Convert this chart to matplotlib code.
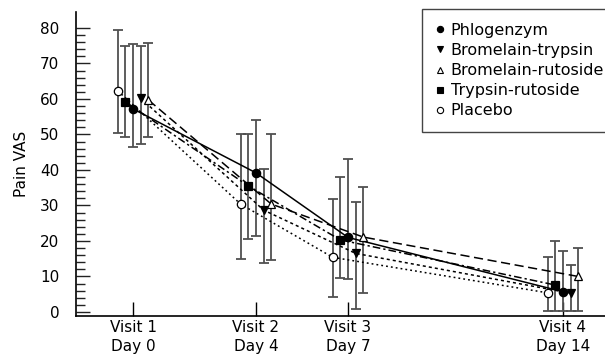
import numpy as np
import matplotlib
matplotlib.use('Agg')
import matplotlib.pyplot as plt
from matplotlib.lines import Line2D

# visits on a day scale
days = [0, 4, 7, 14]
tick_labels = ['Visit 1\nDay 0', 'Visit 2\nDay 4', 'Visit 3\nDay 7', 'Visit 4\nDay 14']

groups = ['Phlogenzym', 'Bromelain-trypsin', 'Bromelain-rutoside', 'Trypsin-rutoside', 'Placebo']

# mean pain VAS and error bar ends
phlog_mean = [57.2, 39.2, 21.0, 5.7]
phlog_hi = [75.4, 54.0, 43.0, 17.2]
phlog_lo = [46.4, 21.5, 9.3, 0.4]

brtr_mean = [60.2, 28.7, 16.5, 5.3]
brtr_hi = [75.0, 40.2, 31.1, 13.2]
brtr_lo = [47.3, 13.7, 0.8, 0.4]

brru_mean = [59.7, 30.4, 21.1, 10.0]
brru_hi = [75.7, 50.0, 35.3, 18.1]
brru_lo = [49.4, 14.6, 5.4, 0.4]

trru_mean = [59.2, 35.5, 20.3, 7.6]
trru_hi = [75.0, 50.0, 38.1, 20.1]
trru_lo = [49.4, 20.6, 9.5, 0.4]

plac_mean = [62.3, 30.4, 15.4, 5.4]
plac_hi = [79.4, 50.0, 31.7, 15.4]
plac_lo = [50.4, 14.8, 4.1, 0.4]

plt.rcParams['font.family'] = ['DejaVu Sans']
plt.rcParams['font.size'] = 11
plt.rcParams['ytick.left'] = True
plt.rcParams['ytick.minor.visible'] = True

fig = plt.figure(figsize=(6.05, 3.6), dpi=100)
ax = fig.add_axes([76/605, 44/360, (605-76)/605, (316-12)/360])

# (means, hi, lo, x shift in days, marker, face, linestyle)
series = [
    (phlog_mean, phlog_hi, phlog_lo, 0.0, 'o', 'black', '-'),
    (brtr_mean, brtr_hi, brtr_lo, 0.25, 'v', 'black', (0, (2, 2))),
    (brru_mean, brru_hi, brru_lo, 0.5, '^', 'white', (0, (6, 3))),
    (trru_mean, trru_hi, trru_lo, -0.25, 's', 'black', (0, (5, 2, 1.5, 2))),
    (plac_mean, plac_hi, plac_lo, -0.5, 'o', 'white', (0, (1.2, 2))),
]

handles = []
for name, (m, hi, lo, dx, mk, fc, ls) in zip(groups, series):
    x = np.array(days) + dx
    m = np.array(m)
    err = [m - np.array(lo), np.array(hi) - m]
    ax.errorbar(x, m, yerr=err, fmt='none', ecolor='#505050', elinewidth=1.3,
                capsize=3.5, capthick=1.3, zorder=2)
    ax.plot(x, m, color='black', lw=1.1, ls=ls, zorder=3)
    ax.plot(x, m, ls='none', marker=mk, ms=6 if mk != 's' else 5.5,
            mfc=fc, mec='black', mew=0.9, zorder=4)
    handles.append(Line2D([], [], ls='none', marker=mk, ms=4.5, mfc=fc,
                          mec='black', mew=0.8, label=name))

ax.set_xlim(-1.86, 15.37)
ax.set_ylim(-1.13, 84.5)
ax.spines['top'].set_visible(False)
ax.spines['right'].set_visible(False)
ax.spines['left'].set_linewidth(1.2)
ax.spines['bottom'].set_linewidth(1.2)

ax.set_xticks(days)
ax.set_xticklabels(tick_labels, linespacing=1.3)
ax.xaxis.set_minor_locator(plt.NullLocator())
ax.set_yticks(range(0, 81, 10))
ax.set_yticks([v for v in range(2, 80, 2) if v % 10], minor=True)
ax.tick_params(axis='x', direction='in', length=10, width=1, pad=3)
ax.yaxis.set_tick_params(which='major', direction='in', length=10, width=1,
                         pad=12, color='#222222', left=True)
ax.yaxis.set_tick_params(which='minor', direction='in', length=6.5, width=1,
                         color='#222222', left=True)
ax.set_ylabel('Pain VAS', labelpad=8)

# legend box runs past the right edge of the figure, as in the original
fig.legend(handles=handles, loc='upper left',
           bbox_to_anchor=(422/605, 1 - 13/360, 210/605, 0.01), mode='expand',
           frameon=True, fancybox=False, edgecolor='#444444', framealpha=1,
           handlelength=0.5, handletextpad=0.45, labelspacing=0.32,
           borderpad=0.85, borderaxespad=0, fontsize=11.5)

fig.savefig('out.png', dpi=100)
